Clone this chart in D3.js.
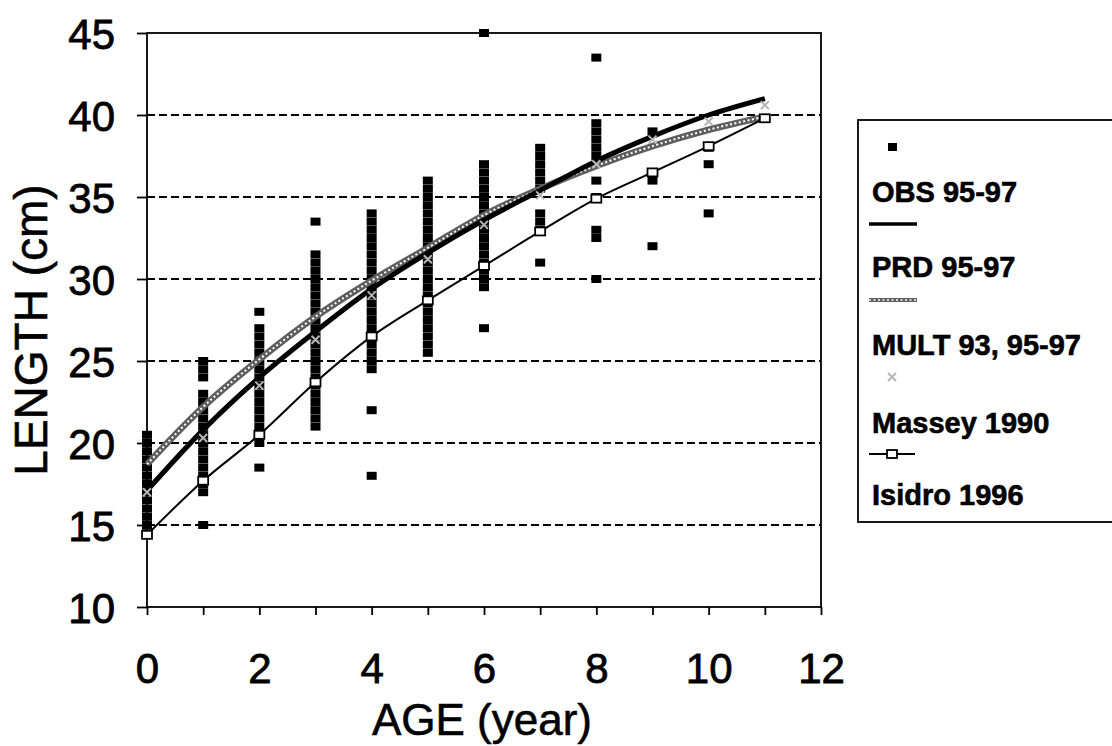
<!DOCTYPE html>
<html>
<head>
<meta charset="utf-8">
<script src="https://cdn.jsdelivr.net/npm/d3@7"></script>
<style>
  html, body { margin: 0; padding: 0; background: #fff; }
  svg { display: block; font-family: "Liberation Sans", Arial, sans-serif; }
</style>
</head>
<body>
<svg id="chart" width="1112" height="746"></svg>
<script>
// ---------------- DATA ----------------
const ages = [0, 1, 2, 3, 4, 5, 6, 7, 8, 9, 10, 11];

// OBS 95-97 observed lengths (cm) by age
const obsAge0  = [14.5, 15, 15.5, 16, 16.5, 17, 17.5, 18, 18.5, 19, 19.5, 20, 20.5];
const obsAge1  = [15, 17, 17.5, 18, 18.5, 19, 19.5, 20, 20.5, 21, 21.5, 22, 22.5, 23, 24, 24.5, 25];
const obsAge2  = [18.5, 20, 20.5, 21, 21.5, 22, 22.5, 23, 23.5, 24, 24.5, 25, 25.5, 26, 26.5, 27, 28];
const obsAge3  = [21, 21.5, 22, 22.5, 23, 23.5, 24, 24.5, 25, 25.5, 26, 26.5, 27, 27.5, 28, 28.5, 29, 29.5, 30, 30.5, 31, 31.5, 33.5];
const obsAge4  = [18, 22, 24.5, 25, 25.5, 26, 26.5, 27, 27.5, 28, 28.5, 29, 29.5, 30, 30.5, 31, 31.5, 32, 32.5, 33, 33.5, 34];
const obsAge5  = [25.5, 26, 26.5, 27, 27.5, 28, 28.5, 29, 29.5, 30, 30.5, 31, 31.5, 32, 32.5, 33, 33.5, 34, 34.5, 35, 35.5, 36];
const obsAge6  = [27, 29.5, 30, 30.5, 31, 31.5, 32, 32.5, 33, 33.5, 34, 34.5, 35, 35.5, 36, 36.5, 37, 45];
const obsAge7  = [31, 33, 33.5, 34, 35.5, 36, 36.5, 37, 37.5, 38];
const obsAge8  = [30, 32.5, 33, 35, 36, 37.5, 38, 38.5, 39, 39.5, 43.5];
const obsAge9  = [32, 36, 36.5, 39];
const obsAge10 = [34, 37, 38];
const obsByAge = [obsAge0, obsAge1, obsAge2, obsAge3, obsAge4, obsAge5,
                  obsAge6, obsAge7, obsAge8, obsAge9, obsAge10];

// Predicted / published growth curves (cm) at ages 0..11
const prd9597   = [17.1, 20.8, 24.0, 26.8, 29.4, 31.6, 33.6, 35.4, 37.2, 38.7, 40.0, 41.0];
const mult9397  = [18.7, 22.2, 25.1, 27.7, 29.9, 31.9, 33.9, 35.5, 36.9, 38.1, 39.1, 39.9];
const massey1990 = [17.0, 20.3, 23.5, 26.3, 29.0, 31.2, 33.3, 35.1, 37.0, 38.5, 39.6, 40.6];
const isidro1996 = [14.4, 17.7, 20.5, 23.7, 26.5, 28.7, 30.8, 32.9, 34.9, 36.5, 38.1, 39.8];

const yTicks = [10, 15, 20, 25, 30, 35, 40, 45];
const gridValues = [15, 20, 25, 30, 35, 40];
const xTicks = [0, 1, 2, 3, 4, 5, 6, 7, 8, 9, 10, 11, 12];
const legendLabels = ["OBS 95-97", "PRD 95-97", "MULT 93, 95-97", "Massey 1990", "Isidro 1996"];

// ---------------- DRAW ----------------
const svg = d3.select("#chart");
const L = 147, R = 821, T = 33, B = 607;
const x = d3.scaleLinear().domain([0, 12]).range([L, R]);
const y = d3.scaleLinear().domain([10, 45]).range([B, T]);
const FONT = "'Liberation Sans', Arial, sans-serif";

// grid lines
svg.append("g").selectAll("line").data(gridValues).join("line")
  .attr("x1", L).attr("x2", R)
  .attr("y1", d => y(d)).attr("y2", d => y(d))
  .attr("stroke", "#000").attr("stroke-width", 2)
  .attr("stroke-dasharray", "8,4");

// frame
svg.append("rect").attr("x", L).attr("y", T).attr("width", R - L).attr("height", B - T)
  .attr("fill", "none").attr("stroke", "#000").attr("stroke-width", 1.8);

// y axis
const yAxis = d3.axisLeft(y).tickValues(yTicks).tickSize(10).tickPadding(22).tickFormat(d3.format("d"));
const gy = svg.append("g").attr("transform", `translate(${L},0)`).call(yAxis);
gy.select(".domain").remove();
gy.selectAll(".tick line").attr("stroke-width", 1.8);
gy.selectAll("text").attr("font-size", 42).attr("fill", "#000").attr("dy", "0.36em")
  .attr("stroke", "#000").attr("stroke-width", 0.8).attr("font-family", FONT);

// x axis
const xAxis = d3.axisBottom(x).tickValues(xTicks).tickSize(8).tickPadding(38)
  .tickFormat(d => d % 2 === 0 ? d : "");
const gx = svg.append("g").attr("transform", `translate(0,${B})`).call(xAxis);
gx.select(".domain").remove();
gx.selectAll(".tick line").attr("stroke-width", 1.8);
gx.selectAll("text").attr("font-size", 42).attr("fill", "#000")
  .attr("stroke", "#000").attr("stroke-width", 0.8).attr("font-family", FONT);

// axis titles
svg.append("text").attr("transform", "translate(47,330) rotate(-90)")
  .attr("text-anchor", "middle").attr("font-size", 46)
  .attr("stroke", "#000").attr("stroke-width", 0.6).text("LENGTH (cm)");
svg.append("text").attr("x", 482).attr("y", 735)
  .attr("text-anchor", "middle").attr("font-size", 44)
  .attr("stroke", "#000").attr("stroke-width", 0.6).text("AGE (year)");

// observations
const obsPts = [];
obsByAge.forEach((vals, a) => vals.forEach(v => obsPts.push({a, v})));
const mW = 10, mH = 8;
svg.append("g").selectAll("rect").data(obsPts).join("rect")
  .attr("x", d => x(d.a) - mW / 2).attr("y", d => y(d.v) - mH / 2)
  .attr("width", mW).attr("height", mH).attr("fill", "#000");

const line = d3.line().x((d, i) => x(ages[i])).y(d => y(d)).curve(d3.curveMonotoneX);

// MULT (grey halftone)
svg.append("path").attr("d", line(mult9397)).attr("fill", "none")
  .attr("stroke", "#5e5e5e").attr("stroke-width", 6.5);
svg.append("path").attr("d", line(mult9397)).attr("fill", "none")
  .attr("stroke", "#fff").attr("stroke-width", 2).attr("stroke-dasharray", "2,2.5");

// PRD (thick black)
svg.append("path").attr("d", line(prd9597)).attr("fill", "none")
  .attr("stroke", "#000").attr("stroke-width", 5);

// Massey markers (grey crosses)
const cross = (g, cx, cy, s) => {
  g.append("path").attr("d", `M${cx - s},${cy - s}L${cx + s},${cy + s}M${cx - s},${cy + s}L${cx + s},${cy - s}`)
    .attr("stroke", "#b5b5b5").attr("stroke-width", 2).attr("fill", "none");
};
const gm = svg.append("g");
massey1990.forEach((v, i) => cross(gm, x(ages[i]), y(v), 4));

// Isidro
svg.append("path").attr("d", line(isidro1996)).attr("fill", "none")
  .attr("stroke", "#000").attr("stroke-width", 2);
svg.append("g").selectAll("rect").data(isidro1996).join("rect")
  .attr("x", (d, i) => x(ages[i]) - 5).attr("y", d => y(d) - 4)
  .attr("width", 10).attr("height", 8)
  .attr("fill", "#fff").attr("stroke", "#000").attr("stroke-width", 1.8);

// ---------------- LEGEND ----------------
const lg = svg.append("g");
lg.append("rect").attr("x", 858).attr("y", 120).attr("width", 300).attr("height", 402)
  .attr("fill", "#fff").attr("stroke", "#000").attr("stroke-width", 1.8);
const labelY = [202, 277, 355, 433, 505];
lg.selectAll("text").data(legendLabels).join("text")
  .attr("x", 872).attr("y", (d, i) => labelY[i])
  .attr("font-size", 29).attr("font-weight", "bold")
  .attr("stroke", "#000").attr("stroke-width", 0.6).text(d => d);
// OBS symbol
lg.append("rect").attr("x", 888).attr("y", 143).attr("width", 9).attr("height", 8).attr("fill", "#000");
// PRD symbol
lg.append("line").attr("x1", 869).attr("x2", 917).attr("y1", 224).attr("y2", 224)
  .attr("stroke", "#000").attr("stroke-width", 3.5);
// MULT symbol
lg.append("line").attr("x1", 869).attr("x2", 917).attr("y1", 300).attr("y2", 300)
  .attr("stroke", "#5e5e5e").attr("stroke-width", 4);
lg.append("line").attr("x1", 869).attr("x2", 917).attr("y1", 300).attr("y2", 300)
  .attr("stroke", "#fff").attr("stroke-width", 1.5).attr("stroke-dasharray", "2,2.5");
// Massey symbol
cross(lg, 892, 377, 4);
// Isidro symbol
lg.append("line").attr("x1", 869).attr("x2", 915).attr("y1", 454).attr("y2", 454)
  .attr("stroke", "#000").attr("stroke-width", 1.8);
lg.append("rect").attr("x", 887).attr("y", 450).attr("width", 10).attr("height", 8)
  .attr("fill", "#fff").attr("stroke", "#000").attr("stroke-width", 1.8);
</script>
</body>
</html>
